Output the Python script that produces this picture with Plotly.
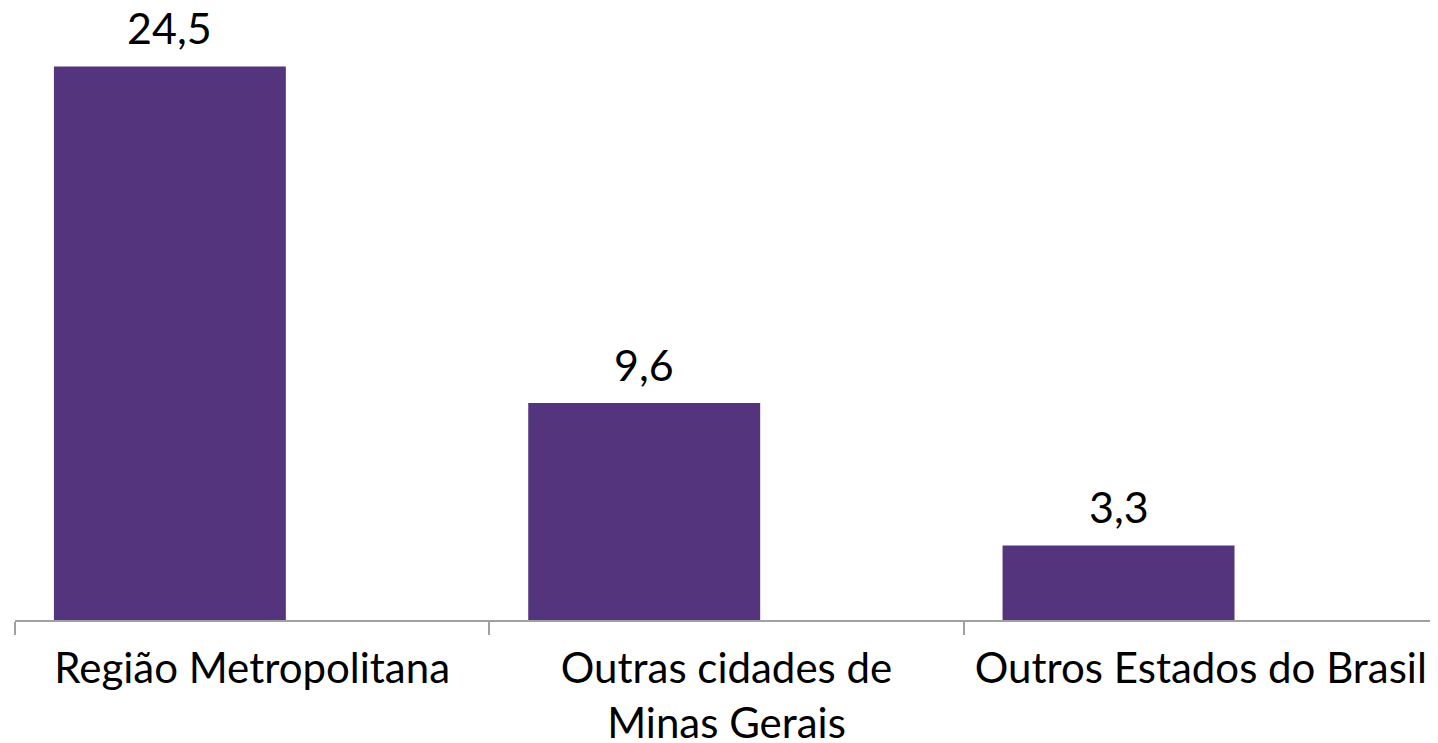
import plotly.graph_objects as go

categories = ["Região Metropolitana", "Outras cidades de<br>Minas Gerais", "Outros Estados do Brasil"]
values = [24.5, 9.6, 3.3]
value_labels = ["24,5", "9,6", "3,3"]

BAR_COLOR = "#53347D"
FONT = "Lato"
BAR_WIDTH = 0.489
BAR_OFFSET = -0.418

fig = go.Figure()
fig.add_trace(go.Bar(
    x=categories,
    y=values,
    width=BAR_WIDTH,
    offset=BAR_OFFSET,
    marker=dict(color=BAR_COLOR, line=dict(width=0)),
    hoverinfo="skip",
))

for i, (v, t) in enumerate(zip(values, value_labels)):
    fig.add_annotation(
        x=i + BAR_OFFSET + BAR_WIDTH / 2, y=v, xref="x", yref="y",
        text=t, showarrow=False, yanchor="bottom", yshift=11,
        font=dict(family=FONT, size=43, color="black"),
    )

fig.update_layout(
    width=1438, height=743,
    margin=dict(l=7, r=8, t=2, b=131, autoexpand=False),
    paper_bgcolor="white", plot_bgcolor="white",
    showlegend=False,
    font=dict(family=FONT, size=42, color="black"),
    xaxis=dict(
        type="category",
        range=[-0.5, 2.5],
        automargin=False,
        tickangle=0,
        showline=True, linecolor="#a0a0a0", linewidth=1.5,
        ticks="outside", tickson="boundaries", ticklen=13,
        tickcolor="#a0a0a0", tickwidth=1.5,
        ticklabelstandoff=11,
        tickfont=dict(family=FONT, size=42, color="black"),
        showgrid=False, zeroline=False,
    ),
    yaxis=dict(
        range=[0, 27], visible=False, showgrid=False, zeroline=False,
    ),
)

fig.write_html("out.html")
